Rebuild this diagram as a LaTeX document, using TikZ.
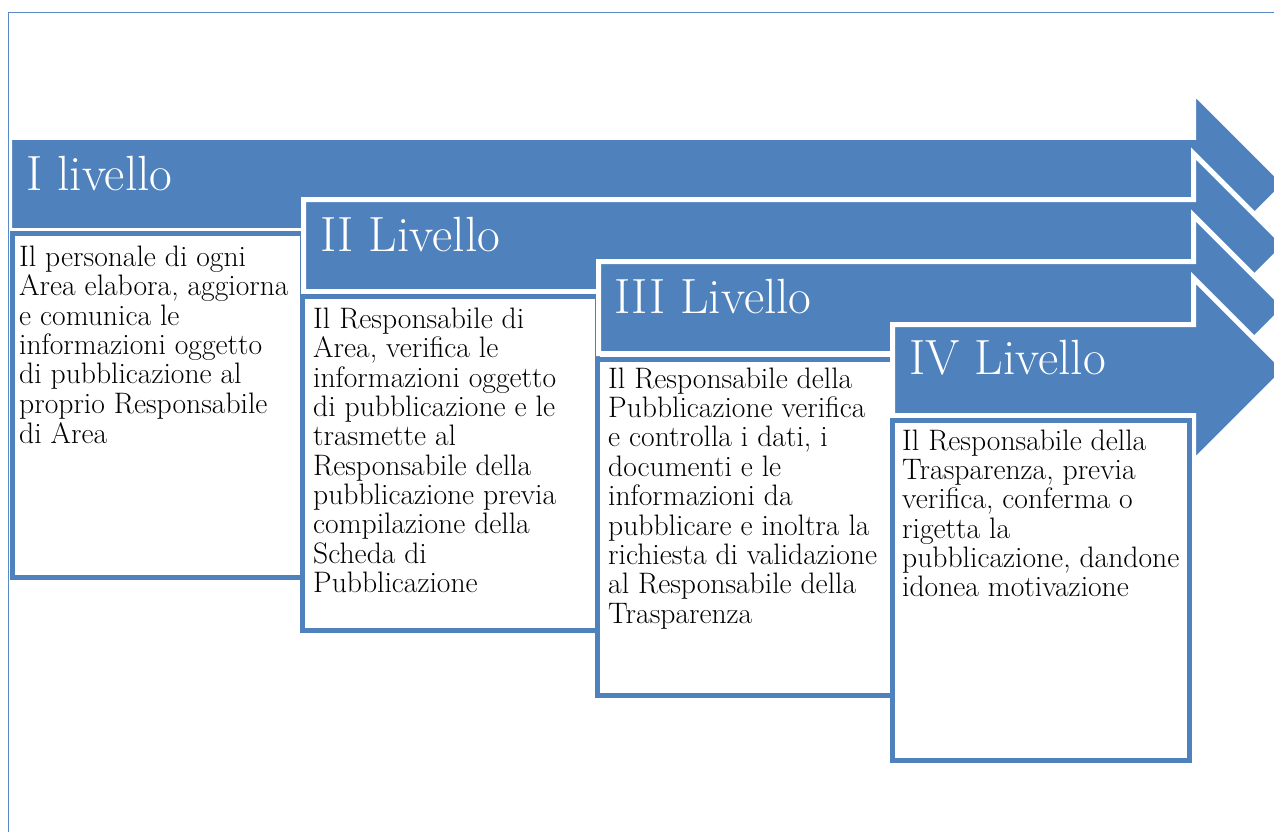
\documentclass[tikz,border=0pt]{standalone}
\usepackage{fontspec}
\definecolor{ofblue}{HTML}{4F81BD}
\definecolor{frameblue}{HTML}{5A8AC6}
\begin{document}
\begin{tikzpicture}[x=1pt,y=-1pt,
  arrowband/.style={fill=ofblue, draw=white, line width=5pt, line join=miter},
  textbox/.style={draw=ofblue, fill=white, line width=5pt, anchor=north west, inner sep=0pt, outer sep=0pt},
  leveltitle/.style={anchor=base west, inner sep=0pt, text=white, font=\fontsize{49.5}{55}\selectfont},
  bodytext/.style={anchor=base west, inner sep=0pt, font=\fontsize{29.6}{29.3}\selectfont},
  framelines/.style={draw=frameblue, line width=1.3pt}]
\useasboundingbox (0,0) rectangle (1274,832);
\clip (0,0) rectangle (1274,832);
\fill[white] (0,0) rectangle (1274,832);
% level I
\draw[arrowband] (9.5,137.5) -- (1193.5,137.5) -- (1193.5,92) -- (1285.5,184) -- (1193.5,276) -- (1193.5,230.5) -- (9.5,230.5) -- cycle;
\node[leveltitle] (t1) at (26,190) {I livello};
% frame
\draw[framelines] (8.5,840) -- (8.5,12.5) -- (1280,12.5);
\node[textbox, minimum width=290pt, minimum height=344pt] (b1) at (12,233) {};
\node[bodytext] (x1) at (19,266) {\begin{tabular}[t]{@{}l@{}}Il personale di ogni\\ Area elabora, aggiorna\\ e comunica le\\ informazioni oggetto\\ di pubblicazione al\\ proprio Responsabile\\ di Area\end{tabular}};
% level II
\draw[arrowband] (303.5,199.5) -- (1193.5,199.5) -- (1193.5,153.5) -- (1285.5,245.5) -- (1193.5,337.5) -- (1193.5,291.5) -- (303.5,291.5) -- cycle;
\node[leveltitle] (t2) at (320,251) {II Livello};
\node[textbox, minimum width=295pt, minimum height=334pt] (b2) at (302.5,296.5) {};
\node[bodytext] (x2) at (313,328) {\begin{tabular}[t]{@{}l@{}}Il Responsabile di\\ Area, verifica le\\ informazioni oggetto\\ di pubblicazione e le\\ trasmette al\\ Responsabile della\\ pubblicazione previa\\ compilazione della\\ Scheda di\\ Pubblicazione\end{tabular}};
% level III
\draw[arrowband] (598.5,261.5) -- (1193.5,261.5) -- (1193.5,215.5) -- (1285.5,307.5) -- (1193.5,399.5) -- (1193.5,353.5) -- (598.5,353.5) -- cycle;
\node[leveltitle] (t3) at (614,313) {III Livello};
\node[textbox, minimum width=295pt, minimum height=336pt] (b3) at (597,359) {};
\node[bodytext] (x3) at (608,388) {\begin{tabular}[t]{@{}l@{}}Il Responsabile della\\ Pubblicazione verifica\\ e controlla i dati, i\\ documenti e le\\ informazioni da\\ pubblicare e inoltra la\\ richiesta di validazione\\ al Responsabile della\\ Trasparenza\end{tabular}};
% level IV
\draw[arrowband] (892.5,324.5) -- (1193.5,324.5) -- (1193.5,278) -- (1285.5,370) -- (1193.5,462) -- (1193.5,415.5) -- (892.5,415.5) -- cycle;
\node[leveltitle] (t4) at (909,374) {IV Livello};
\node[textbox, minimum width=297pt, minimum height=340pt] (b4) at (892,420.5) {};
\node[bodytext] (x4) at (902,450) {\begin{tabular}[t]{@{}l@{}}Il Responsabile della\\ Trasparenza, previa\\ verifica, conferma o\\ rigetta la\\ pubblicazione, dandone\\ idonea motivazione\end{tabular}};
\end{tikzpicture}
\end{document}
